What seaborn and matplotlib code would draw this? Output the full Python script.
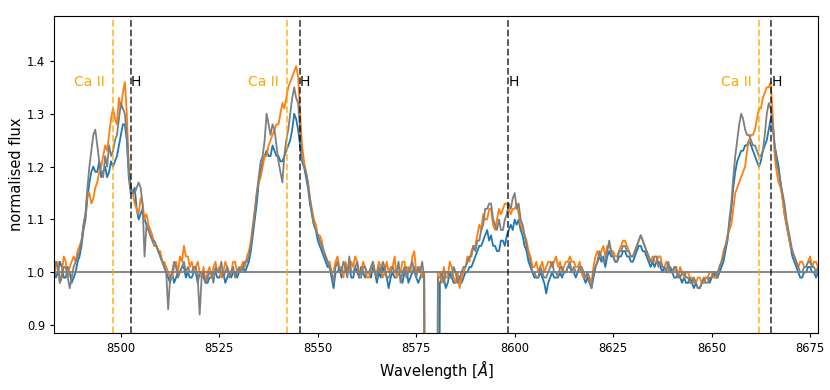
import matplotlib
matplotlib.use("Agg")
import matplotlib.pyplot as plt
import seaborn as sns
import pandas as pd

# ---------------- data ----------------
wavelength = [
    8483.0, 8483.5, 8484.0, 8484.5, 8485.0, 8485.5, 8486.0, 8486.5, 8487.0, 8487.5,
    8488.0, 8488.5, 8489.0, 8489.5, 8490.0, 8490.5, 8491.0, 8491.5, 8492.0, 8492.5,
    8493.0, 8493.5, 8494.0, 8494.5, 8495.0, 8495.5, 8496.0, 8496.5, 8497.0, 8497.5,
    8498.0, 8498.5, 8499.0, 8499.5, 8500.0, 8500.5, 8501.0, 8501.5, 8502.0, 8502.5,
    8503.0, 8503.5, 8504.0, 8504.5, 8505.0, 8505.5, 8506.0, 8506.5, 8507.0, 8507.5,
    8508.0, 8508.5, 8509.0, 8509.5, 8510.0, 8510.5, 8511.0, 8511.5, 8512.0, 8512.5,
    8513.0, 8513.5, 8514.0, 8514.5, 8515.0, 8515.5, 8516.0, 8516.5, 8517.0, 8517.5,
    8518.0, 8518.5, 8519.0, 8519.5, 8520.0, 8520.5, 8521.0, 8521.5, 8522.0, 8522.5,
    8523.0, 8523.5, 8524.0, 8524.5, 8525.0, 8525.5, 8526.0, 8526.5, 8527.0, 8527.5,
    8528.0, 8528.5, 8529.0, 8529.5, 8530.0, 8530.5, 8531.0, 8531.5, 8532.0, 8532.5,
    8533.0, 8533.5, 8534.0, 8534.5, 8535.0, 8535.5, 8536.0, 8536.5, 8537.0, 8537.5,
    8538.0, 8538.5, 8539.0, 8539.5, 8540.0, 8540.5, 8541.0, 8541.5, 8542.0, 8542.5,
    8543.0, 8543.5, 8544.0, 8544.5, 8545.0, 8545.5, 8546.0, 8546.5, 8547.0, 8547.5,
    8548.0, 8548.5, 8549.0, 8549.5, 8550.0, 8550.5, 8551.0, 8551.5, 8552.0, 8552.5,
    8553.0, 8553.5, 8554.0, 8554.5, 8555.0, 8555.5, 8556.0, 8556.5, 8557.0, 8557.5,
    8558.0, 8558.5, 8559.0, 8559.5, 8560.0, 8560.5, 8561.0, 8561.5, 8562.0, 8562.5,
    8563.0, 8563.5, 8564.0, 8564.5, 8565.0, 8565.5, 8566.0, 8566.5, 8567.0, 8567.5,
    8568.0, 8568.5, 8569.0, 8569.5, 8570.0, 8570.5, 8571.0, 8571.5, 8572.0, 8572.5,
    8573.0, 8573.5, 8574.0, 8574.5, 8575.0, 8575.5, 8576.0, 8576.5, 8577.0, 8577.5,
    8578.0, 8578.5, 8579.0, 8579.5, 8580.0, 8580.5, 8581.0, 8581.5, 8582.0, 8582.5,
    8583.0, 8583.5, 8584.0, 8584.5, 8585.0, 8585.5, 8586.0, 8586.5, 8587.0, 8587.5,
    8588.0, 8588.5, 8589.0, 8589.5, 8590.0, 8590.5, 8591.0, 8591.5, 8592.0, 8592.5,
    8593.0, 8593.5, 8594.0, 8594.5, 8595.0, 8595.5, 8596.0, 8596.5, 8597.0, 8597.5,
    8598.0, 8598.5, 8599.0, 8599.5, 8600.0, 8600.5, 8601.0, 8601.5, 8602.0, 8602.5,
    8603.0, 8603.5, 8604.0, 8604.5, 8605.0, 8605.5, 8606.0, 8606.5, 8607.0, 8607.5,
    8608.0, 8608.5, 8609.0, 8609.5, 8610.0, 8610.5, 8611.0, 8611.5, 8612.0, 8612.5,
    8613.0, 8613.5, 8614.0, 8614.5, 8615.0, 8615.5, 8616.0, 8616.5, 8617.0, 8617.5,
    8618.0, 8618.5, 8619.0, 8619.5, 8620.0, 8620.5, 8621.0, 8621.5, 8622.0, 8622.5,
    8623.0, 8623.5, 8624.0, 8624.5, 8625.0, 8625.5, 8626.0, 8626.5, 8627.0, 8627.5,
    8628.0, 8628.5, 8629.0, 8629.5, 8630.0, 8630.5, 8631.0, 8631.5, 8632.0, 8632.5,
    8633.0, 8633.5, 8634.0, 8634.5, 8635.0, 8635.5, 8636.0, 8636.5, 8637.0, 8637.5,
    8638.0, 8638.5, 8639.0, 8639.5, 8640.0, 8640.5, 8641.0, 8641.5, 8642.0, 8642.5,
    8643.0, 8643.5, 8644.0, 8644.5, 8645.0, 8645.5, 8646.0, 8646.5, 8647.0, 8647.5,
    8648.0, 8648.5, 8649.0, 8649.5, 8650.0, 8650.5, 8651.0, 8651.5, 8652.0, 8652.5,
    8653.0, 8653.5, 8654.0, 8654.5, 8655.0, 8655.5, 8656.0, 8656.5, 8657.0, 8657.5,
    8658.0, 8658.5, 8659.0, 8659.5, 8660.0, 8660.5, 8661.0, 8661.5, 8662.0, 8662.5,
    8663.0, 8663.5, 8664.0, 8664.5, 8665.0, 8665.5, 8666.0, 8666.5, 8667.0, 8667.5,
    8668.0, 8668.5, 8669.0, 8669.5, 8670.0, 8670.5, 8671.0, 8671.5, 8672.0, 8672.5,
    8673.0, 8673.5, 8674.0, 8674.5, 8675.0, 8675.5, 8676.0, 8676.5, 8677.0,
]

flux_blue = [
    1.01, 0.99, 1.00, 1.02, 1.01, 0.99, 0.99, 1.01, 1.00, 0.98,
    0.99, 1.00, 1.02, 1.03, 1.05, 1.08, 1.10, 1.14, 1.17, 1.19,
    1.20, 1.19, 1.19, 1.21, 1.18, 1.19, 1.20, 1.18, 1.19, 1.21,
    1.20, 1.21, 1.22, 1.24, 1.26, 1.28, 1.28, 1.25, 1.18, 1.15,
    1.15, 1.16, 1.12, 1.10, 1.11, 1.12, 1.10, 1.09, 1.08, 1.07,
    1.06, 1.05, 1.05, 1.04, 1.03, 1.02, 1.01, 1.00, 0.99, 0.98,
    1.00, 0.98, 0.99, 1.00, 1.00, 1.01, 1.01, 0.99, 1.00, 0.99,
    0.99, 1.00, 1.00, 0.98, 1.00, 1.00, 0.99, 0.98, 0.98, 0.99,
    0.99, 1.00, 1.00, 0.99, 0.99, 1.00, 1.00, 0.98, 0.99, 1.00,
    0.99, 1.00, 1.00, 0.99, 1.00, 1.01, 1.01, 1.00, 1.01, 1.02,
    1.04, 1.07, 1.10, 1.13, 1.17, 1.19, 1.21, 1.22, 1.23, 1.22,
    1.22, 1.24, 1.23, 1.22, 1.22, 1.21, 1.21, 1.22, 1.23, 1.24,
    1.25, 1.27, 1.30, 1.29, 1.27, 1.24, 1.21, 1.20, 1.18, 1.16,
    1.13, 1.11, 1.09, 1.08, 1.06, 1.05, 1.04, 1.03, 1.02, 1.01,
    1.01, 0.99, 0.97, 1.00, 1.00, 1.01, 0.99, 1.00, 1.00, 1.01,
    1.01, 0.99, 0.99, 1.01, 1.00, 0.99, 1.01, 1.00, 0.99, 1.00,
    1.00, 0.99, 1.01, 1.00, 0.98, 1.00, 0.99, 1.01, 1.00, 0.99,
    0.97, 0.99, 1.00, 0.99, 0.99, 1.00, 0.99, 0.98, 1.00, 1.01,
    0.98, 0.99, 1.00, 1.01, 0.99, 0.98, 0.99, 1.00, 1.00, 0.00,
    0.00, 0.00, 0.00, 0.00, 0.00, 0.00, 0.98, 0.99, 0.99, 0.97,
    0.98, 1.00, 0.99, 0.98, 0.98, 0.99, 0.99, 0.98, 0.99, 1.00,
    1.00, 1.01, 1.01, 1.02, 1.03, 1.04, 1.05, 1.05, 1.06, 1.07,
    1.08, 1.06, 1.07, 1.05, 1.05, 1.04, 1.04, 1.06, 1.06, 1.05,
    1.07, 1.08, 1.09, 1.08, 1.10, 1.09, 1.10, 1.08, 1.07, 1.05,
    1.04, 1.02, 1.01, 1.00, 0.99, 0.99, 0.99, 1.00, 0.99, 0.98,
    0.96, 0.98, 0.99, 1.00, 0.99, 0.99, 0.99, 1.00, 0.99, 1.00,
    1.00, 1.01, 1.01, 1.00, 1.00, 0.99, 1.00, 1.01, 1.00, 0.99,
    0.98, 0.99, 0.98, 0.97, 0.99, 1.01, 1.02, 1.03, 1.02, 1.03,
    1.01, 1.03, 1.04, 1.03, 1.03, 1.02, 1.02, 1.03, 1.03, 1.04,
    1.04, 1.03, 1.03, 1.02, 1.02, 1.03, 1.04, 1.05, 1.05, 1.04,
    1.04, 1.03, 1.02, 1.01, 1.02, 1.01, 1.02, 1.02, 1.01, 1.00,
    1.01, 1.00, 1.00, 1.01, 1.00, 0.99, 0.99, 1.00, 0.99, 0.98,
    0.99, 0.98, 0.98, 0.99, 0.98, 0.97, 0.98, 0.97, 0.97, 0.98,
    0.98, 0.99, 0.99, 0.98, 0.99, 1.00, 0.99, 0.99, 1.00, 1.01,
    1.02, 1.04, 1.06, 1.09, 1.12, 1.16, 1.19, 1.21, 1.22, 1.23,
    1.23, 1.24, 1.24, 1.25, 1.24, 1.23, 1.22, 1.21, 1.20, 1.21,
    1.23, 1.24, 1.25, 1.27, 1.29, 1.28, 1.24, 1.22, 1.20, 1.17,
    1.14, 1.11, 1.09, 1.07, 1.05, 1.03, 1.02, 1.01, 1.00, 0.99,
    0.99, 1.00, 1.00, 1.01, 1.01, 1.00, 1.00, 0.99, 1.00,
]

flux_orange = [
    0.99, 1.01, 1.02, 0.98, 1.00, 1.03, 1.02, 0.99, 1.01, 1.02,
    1.03, 1.02, 1.04, 1.05, 1.06, 1.09, 1.11, 1.15, 1.15, 1.13,
    1.14, 1.16, 1.17, 1.19, 1.20, 1.22, 1.24, 1.23, 1.26, 1.29,
    1.31, 1.29, 1.28, 1.33, 1.31, 1.34, 1.36, 1.30, 1.20, 1.16,
    1.15, 1.13, 1.12, 1.11, 1.14, 1.13, 1.10, 1.11, 1.09, 1.08,
    1.07, 1.05, 1.05, 1.04, 1.04, 1.02, 1.02, 1.01, 1.00, 0.99,
    0.99, 1.01, 1.02, 1.00, 1.03, 1.02, 1.05, 1.03, 1.03, 1.01,
    1.02, 1.00, 1.01, 1.02, 1.00, 0.99, 1.01, 0.98, 1.00, 1.01,
    0.99, 1.01, 1.02, 1.00, 1.01, 0.99, 1.00, 1.02, 1.01, 1.00,
    1.00, 1.02, 1.02, 1.00, 1.00, 1.01, 1.02, 1.01, 1.03, 1.04,
    1.06, 1.09, 1.12, 1.15, 1.17, 1.18, 1.20, 1.22, 1.22, 1.24,
    1.25, 1.26, 1.27, 1.28, 1.28, 1.30, 1.32, 1.31, 1.33, 1.35,
    1.36, 1.37, 1.38, 1.39, 1.37, 1.30, 1.24, 1.21, 1.19, 1.17,
    1.14, 1.12, 1.10, 1.09, 1.07, 1.07, 1.06, 1.04, 1.03, 1.02,
    1.02, 1.00, 1.00, 1.02, 1.03, 1.01, 1.01, 0.99, 1.02, 1.01,
    1.00, 1.02, 1.01, 1.03, 1.02, 1.00, 1.00, 1.02, 1.01, 0.99,
    0.99, 1.01, 1.02, 1.00, 1.00, 1.02, 1.01, 0.99, 1.00, 1.02,
    1.00, 1.01, 1.01, 1.03, 0.99, 1.00, 1.00, 1.02, 1.02, 1.00,
    1.01, 1.00, 1.03, 1.04, 1.00, 1.01, 1.01, 0.99, 1.00, 0.00,
    0.00, 0.00, 0.00, 0.00, 0.00, 1.00, 1.00, 0.98, 1.01, 0.99,
    0.99, 1.02, 1.01, 0.99, 0.98, 1.00, 0.97, 0.99, 1.00, 1.01,
    1.03, 1.02, 1.04, 1.05, 1.05, 1.07, 1.09, 1.08, 1.11, 1.10,
    1.10, 1.12, 1.12, 1.09, 1.08, 1.10, 1.12, 1.11, 1.12, 1.13,
    1.13, 1.12, 1.11, 1.12, 1.12, 1.13, 1.11, 1.09, 1.08, 1.07,
    1.06, 1.04, 1.03, 1.01, 1.01, 1.02, 1.00, 1.01, 1.02, 1.00,
    1.01, 1.02, 1.02, 1.01, 1.02, 1.03, 1.01, 1.02, 1.00, 1.01,
    1.02, 1.02, 1.03, 1.02, 1.02, 1.01, 1.01, 1.02, 1.00, 0.99,
    0.99, 1.00, 0.99, 0.98, 1.01, 1.03, 1.04, 1.03, 1.04, 1.05,
    1.03, 1.05, 1.05, 1.04, 1.04, 1.03, 1.03, 1.04, 1.05, 1.06,
    1.06, 1.05, 1.04, 1.03, 1.03, 1.04, 1.05, 1.06, 1.07, 1.06,
    1.05, 1.04, 1.03, 1.02, 1.03, 1.02, 1.02, 1.03, 1.03, 1.01,
    1.01, 1.02, 1.01, 1.00, 1.00, 1.01, 1.00, 0.99, 1.01, 1.00,
    0.99, 1.00, 1.00, 0.99, 0.99, 0.98, 0.98, 0.99, 0.99, 0.98,
    0.98, 0.99, 0.99, 1.00, 1.00, 0.99, 0.99, 1.00, 1.01, 1.02,
    1.04, 1.05, 1.07, 1.08, 1.09, 1.12, 1.15, 1.16, 1.17, 1.18,
    1.19, 1.20, 1.23, 1.25, 1.26, 1.26, 1.27, 1.29, 1.31, 1.31,
    1.33, 1.34, 1.35, 1.35, 1.36, 1.30, 1.22, 1.19, 1.17, 1.16,
    1.14, 1.11, 1.09, 1.07, 1.05, 1.04, 1.03, 1.02, 1.01, 1.02,
    1.02, 1.01, 1.01, 1.02, 1.03, 1.01, 1.02, 1.02, 1.01,
]

flux_gray = [
    1.00, 1.02, 1.01, 0.98, 0.99, 1.01, 1.01, 0.99, 0.97, 0.99,
    1.01, 1.02, 1.03, 1.04, 1.06, 1.09, 1.11, 1.16, 1.20, 1.23,
    1.26, 1.27, 1.24, 1.21, 1.19, 1.18, 1.22, 1.20, 1.24, 1.22,
    1.23, 1.25, 1.26, 1.29, 1.32, 1.31, 1.30, 1.26, 1.20, 1.16,
    1.15, 1.15, 1.16, 1.17, 1.16, 1.13, 1.03, 1.09, 1.08, 1.07,
    1.06, 1.06, 1.05, 1.04, 1.03, 1.02, 1.01, 1.00, 0.93, 0.99,
    1.00, 1.02, 1.01, 0.99, 1.00, 1.01, 1.02, 1.00, 1.01, 1.00,
    1.00, 1.01, 1.01, 0.99, 0.92, 0.99, 1.00, 0.98, 0.99, 1.00,
    1.00, 0.98, 1.01, 1.00, 1.00, 1.02, 0.99, 1.00, 1.01, 0.99,
    1.00, 1.01, 0.99, 1.00, 1.01, 1.00, 1.01, 1.02, 1.02, 1.03,
    1.05, 1.08, 1.11, 1.15, 1.18, 1.21, 1.22, 1.25, 1.30, 1.28,
    1.26, 1.28, 1.27, 1.24, 1.21, 1.19, 1.17, 1.22, 1.25, 1.27,
    1.30, 1.33, 1.35, 1.33, 1.32, 1.27, 1.21, 1.20, 1.19, 1.17,
    1.14, 1.11, 1.09, 1.08, 1.07, 1.06, 1.05, 1.04, 1.03, 1.02,
    1.01, 1.00, 0.98, 1.01, 1.02, 1.00, 1.00, 1.02, 1.01, 0.99,
    1.03, 1.00, 1.00, 1.01, 1.02, 0.99, 0.99, 1.01, 1.01, 1.00,
    1.00, 1.01, 1.02, 1.00, 0.99, 1.01, 1.00, 1.02, 1.01, 0.99,
    0.99, 1.00, 1.01, 1.00, 1.00, 1.02, 0.98, 1.00, 1.01, 0.99,
    1.00, 1.01, 1.02, 1.00, 0.99, 1.01, 1.00, 1.02, 0.99, 0.00,
    0.00, 0.00, 0.00, 0.00, 0.00, 0.99, 0.99, 1.00, 0.98, 1.00,
    1.00, 0.99, 0.99, 1.01, 1.00, 0.98, 0.99, 1.00, 1.01, 1.01,
    1.02, 1.03, 1.03, 1.05, 1.04, 1.06, 1.06, 1.08, 1.09, 1.12,
    1.12, 1.13, 1.13, 1.10, 1.09, 1.08, 1.10, 1.08, 1.08, 1.10,
    1.11, 1.13, 1.12, 1.14, 1.15, 1.12, 1.13, 1.10, 1.09, 1.07,
    1.05, 1.03, 1.02, 1.00, 1.00, 0.99, 0.99, 1.01, 1.00, 0.99,
    0.99, 1.00, 1.01, 1.02, 1.00, 1.00, 0.99, 1.01, 1.01, 1.00,
    1.00, 1.01, 1.02, 1.00, 1.01, 1.00, 1.00, 1.01, 1.01, 1.00,
    0.99, 1.00, 0.98, 0.97, 1.00, 1.01, 1.02, 1.04, 1.03, 1.02,
    1.02, 1.04, 1.06, 1.04, 1.03, 1.02, 1.02, 1.04, 1.04, 1.05,
    1.05, 1.04, 1.04, 1.03, 1.03, 1.04, 1.05, 1.06, 1.07, 1.06,
    1.05, 1.04, 1.03, 1.02, 1.02, 1.03, 1.03, 1.01, 1.02, 1.01,
    1.01, 1.00, 1.02, 1.00, 1.00, 1.01, 1.01, 0.99, 0.99, 1.00,
    1.00, 0.99, 0.99, 0.98, 0.98, 0.99, 0.98, 0.97, 0.97, 0.98,
    0.99, 0.98, 0.98, 0.99, 0.99, 1.00, 1.00, 0.99, 1.01, 1.02,
    1.03, 1.05, 1.06, 1.10, 1.13, 1.18, 1.22, 1.25, 1.28, 1.30,
    1.29, 1.27, 1.26, 1.26, 1.25, 1.24, 1.24, 1.23, 1.22, 1.22,
    1.23, 1.26, 1.30, 1.32, 1.31, 1.28, 1.24, 1.21, 1.19, 1.17,
    1.15, 1.13, 1.10, 1.08, 1.06, 1.04, 1.03, 1.02, 1.01, 1.00,
    1.00, 1.01, 1.01, 1.02, 1.02, 1.01, 1.01, 1.00, 1.01,
]

ca_lines = [8498.02, 8542.09, 8662.14]
h_lines = [8502.48, 8545.38, 8598.39, 8665.02]
ca_label = "Ca II"
h_label = "H"
x_ticks = [8500, 8525, 8550, 8575, 8600, 8625, 8650, 8675]
y_ticks = [0.9, 1.0, 1.1, 1.2, 1.3, 1.4]

# ---------------- plotting ----------------
df = pd.DataFrame({"wavelength": wavelength, "blue": flux_blue,
                   "orange": flux_orange, "gray": flux_gray})

fig = plt.figure(figsize=(8.3, 3.9), dpi=100)
ax = fig.add_axes([0.065, 0.146, 0.9205, 0.813])

for col, c in [("blue", "#1f77b4"), ("orange", "#ff7f0e"), ("gray", "#7f7f7f")]:
    sns.lineplot(data=df, x="wavelength", y=col, color=c, lw=1.3,
                 ax=ax, sort=False, errorbar=None, estimator=None)

ax.axhline(1.0, color="#7f7f7f", lw=1.3)

label_y = 1.36
for w in ca_lines:
    ax.axvline(w, color="orange", ls="--", lw=1.3, alpha=0.75)
    ax.text(w - 2.0, label_y, ca_label, color="orange", fontsize=10,
            ha="right", va="center")
for w in h_lines:
    ax.axvline(w, color="k", ls="--", lw=1.3, alpha=0.7)
    ax.text(w + 0.1, label_y, h_label, color="k", fontsize=10,
            ha="left", va="center")

ax.set_xlim(8483, 8677)
ax.set_ylim(0.885, 1.485)
ax.set_xticks(x_ticks)
ax.set_yticks(y_ticks)
ax.set_xticklabels([str(t) for t in x_ticks])
ax.set_yticklabels([f"{t:.1f}" for t in y_ticks])
ax.tick_params(labelsize=8.3, length=3)
ax.set_xlabel(r"Wavelength [$\AA$]", fontsize=10.5, labelpad=2)
ax.set_ylabel("normalised flux", fontsize=10.5, labelpad=2)

fig.savefig("out.png", dpi=100)
